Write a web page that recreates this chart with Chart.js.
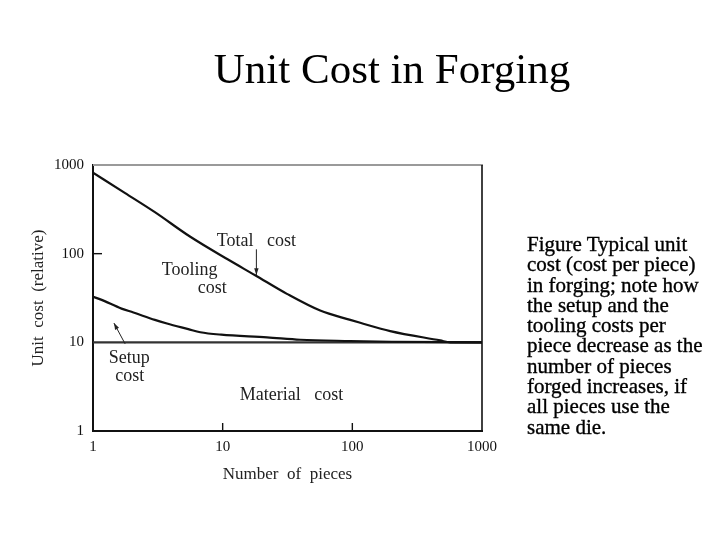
<!DOCTYPE html>
<html>
<head>
<meta charset="utf-8">
<script src="https://cdn.jsdelivr.net/npm/chart.js@4.4.1/dist/chart.umd.min.js"></script>
<style>
html,body{margin:0;padding:0;background:#fff;width:720px;height:540px;overflow:hidden;}
#chartbox{position:absolute;left:0;top:0;width:720px;height:540px;}
#title{position:absolute;left:0;top:47px;width:784px;text-align:center;font-family:"Liberation Serif","Times New Roman",serif;font-size:43px;line-height:43px;color:#000;white-space:nowrap;}
#note{position:absolute;left:527px;top:234px;font-family:"Liberation Serif","Times New Roman",serif;font-size:21px;line-height:20.3px;color:#000;white-space:nowrap;-webkit-text-stroke:0.35px #000;}
</style>
</head>
<body>
<div id="chartbox"><canvas id="c" width="720" height="540"></canvas></div>
<div id="title">Unit Cost in Forging</div>
<div id="note">Figure Typical unit<br>cost (cost per piece)<br>in forging; note how<br>the setup and the<br>tooling costs per<br>piece decrease as the<br>number of pieces<br>forged increases, if<br>all pieces use the<br>same die.</div>
<script>
// ---- data ----
const totalPieces = [1, 1.77, 3.0, 5.63, 11.0, 17.8, 31.3, 56.5, 96.4, 115, 196, 476, 569, 1000];
const totalCost   = [820, 482, 294, 155, 85.8, 57.1, 35.2, 22.8, 17.9, 16.6, 13.4, 10.5, 10.0, 10.0];
const setupPieces = [1, 1.14, 1.66, 2.05, 3.0, 3.72, 5.43, 6.72, 9.75, 22.0, 39.7, 96.4, 200, 1000];
const setupCost   = [32.6, 30.5, 24.0, 21.7, 17.9, 16.3, 14.1, 13.0, 12.2, 11.4, 10.7, 10.35, 10.15, 10.0];
const materialPieces = [1, 1000];
const materialCost   = [10, 10];
const xTickValues = [1, 10, 100, 1000];
const yTickValues = [1, 10, 100, 1000];

// annotation labels placed in data space
const labels = [
  {text: 'Total   cost', x: 18.2, y: 139},
  {text: 'Tooling', x: 5.56, y: 65.4},
  {text: 'cost', x: 8.3, y: 40.7},
  {text: 'Setup', x: 1.9, y: 6.6},
  {text: 'cost', x: 1.92, y: 4.15},
  {text: 'Material   cost', x: 34.0, y: 2.5}
];
const arrows = [
  {from: {x: 18.2, y: 112}, to: {x: 18.2, y: 57.5}},
  {from: {x: 1.77, y: 9.6}, to: {x: 1.45, y: 16.5}}
];

const pts = (xs, ys) => xs.map((v, i) => ({x: v, y: ys[i]}));
const SERIF = '"Liberation Serif","Times New Roman",serif';

const decor = {
  id: 'decor',
  afterDatasetsDraw(chart) {
    const {ctx, chartArea: a, scales: {x, y}} = chart;
    ctx.save();
    const line = (x1, y1, x2, y2) => { ctx.beginPath(); ctx.moveTo(x1, y1); ctx.lineTo(x2, y2); ctx.stroke(); };
    ctx.lineCap = 'butt';
    ctx.strokeStyle = '#9a9a9a'; ctx.lineWidth = 2;
    line(a.left, a.top, a.right + 1, a.top);
    ctx.strokeStyle = '#111'; ctx.lineWidth = 1.6;
    line(a.right, a.top, a.right, a.bottom);
    // inward tick marks
    ctx.lineWidth = 1.4;
    [100].forEach(v => { const p = y.getPixelForValue(v); line(a.left, p, a.left + 9, p); });
    [10, 100].forEach(v => { const p = x.getPixelForValue(v); line(p, a.bottom, p, a.bottom - 8); });
    // labels
    ctx.fillStyle = '#222';
    ctx.font = '18px ' + SERIF;
    ctx.textAlign = 'center';
    ctx.textBaseline = 'middle';
    labels.forEach(l => ctx.fillText(l.text, x.getPixelForValue(l.x), y.getPixelForValue(l.y)));
    // arrows
    ctx.strokeStyle = '#222'; ctx.lineWidth = 1;
    arrows.forEach(ar => {
      const x1 = x.getPixelForValue(ar.from.x), y1 = y.getPixelForValue(ar.from.y);
      const x2 = x.getPixelForValue(ar.to.x), y2 = y.getPixelForValue(ar.to.y);
      line(x1, y1, x2, y2);
      const ang = Math.atan2(y2 - y1, x2 - x1), L = 7, W = 0.32;
      ctx.beginPath();
      ctx.moveTo(x2, y2);
      ctx.lineTo(x2 - L * Math.cos(ang - W), y2 - L * Math.sin(ang - W));
      ctx.lineTo(x2 - L * Math.cos(ang + W), y2 - L * Math.sin(ang + W));
      ctx.closePath(); ctx.fillStyle = '#222'; ctx.fill();
    });
    ctx.restore();
  }
};

new Chart(document.getElementById('c'), {
  type: 'line',
  data: {
    datasets: [
      {label: 'Total cost', data: pts(totalPieces, totalCost), borderColor: '#111', borderWidth: 2.2, pointRadius: 0, cubicInterpolationMode: 'monotone', fill: false},
      {label: 'Setup + tooling', data: pts(setupPieces, setupCost), borderColor: '#111', borderWidth: 2.2, pointRadius: 0, cubicInterpolationMode: 'monotone', fill: false},
      {label: 'Material cost', data: pts(materialPieces, materialCost), borderColor: '#333', borderWidth: 2.2, pointRadius: 0, fill: false}
    ]
  },
  options: {
    responsive: false,
    animation: false,
    events: [],
    layout: {padding: {left: 28, top: 165, right: 238, bottom: 55}},
    plugins: {legend: {display: false}, tooltip: {enabled: false}, title: {display: false}},
    scales: {
      x: {
        type: 'logarithmic', min: 1, max: 1000,
        afterBuildTicks: s => { s.ticks = xTickValues.map(v => ({value: v})); },
        afterFit: s => { s.height = 54; },
        grid: {display: false, drawTicks: false},
        border: {display: true, color: '#111', width: 2},
        ticks: {autoSkip: false, maxRotation: 0, padding: 7, color: '#111', font: {family: SERIF, size: 15}, callback: v => String(v)},
        title: {display: true, text: 'Number  of  pieces', color: '#222', padding: 0, font: {family: SERIF, size: 17}}
      },
      y: {
        type: 'logarithmic', min: 1, max: 1000,
        afterBuildTicks: s => { s.ticks = yTickValues.map(v => ({value: v})); },
        afterFit: s => { s.width = 65; },
        grid: {display: false, drawTicks: false},
        border: {display: true, color: '#111', width: 2},
        ticks: {autoSkip: false, padding: 9, color: '#111', font: {family: SERIF, size: 15}, callback: v => String(v)},
        title: {display: true, text: 'Unit  cost  (relative)', color: '#222', padding: 0, font: {family: SERIF, size: 17}}
      }
    }
  },
  plugins: [decor]
});
</script>
</body>
</html>
